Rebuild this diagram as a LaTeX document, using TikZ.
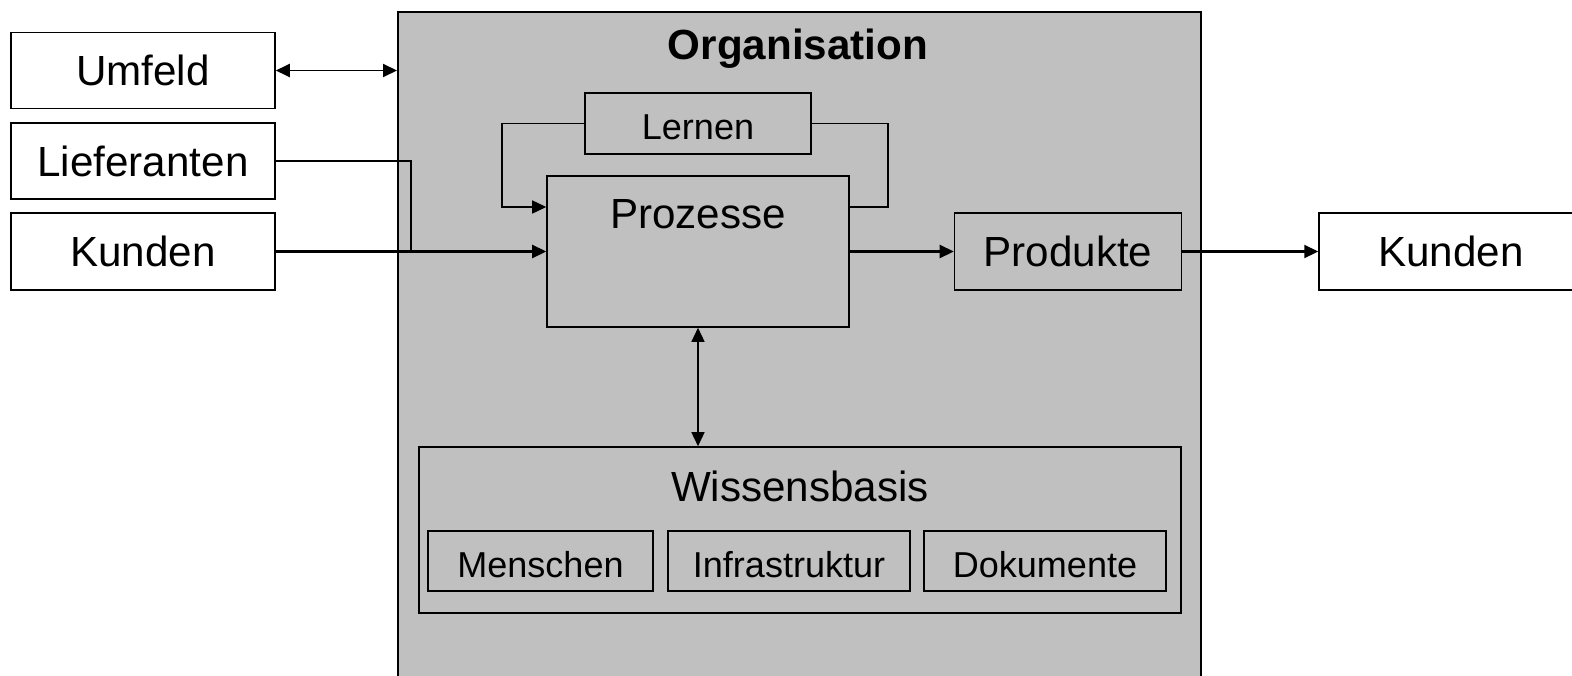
\documentclass[tikz,border=0pt]{standalone}
\usepackage{fontspec}
\setmainfont{Liberation Sans}
\usepackage{tikz}
\usetikzlibrary{arrows.meta, positioning}
\definecolor{orgcolor}{RGB}{192,192,192}

\begin{document}
\begin{tikzpicture}[x=0.02cm, y=-0.02cm,
    bigfont/.style={font=\fontsize{24}{28}\selectfont},
    smallfont/.style={font=\fontsize{20.5}{24}\selectfont},
    box/.style={draw, line width=0.9pt, inner sep=0pt, bigfont},
    smallbox/.style={draw, line width=0.9pt, inner sep=0pt, minimum height=1.2cm, text height=0.66cm, text depth=0pt, smallfont},
    link/.style={line width=1.3pt, -{Triangle[length=2.8mm, width=2.6mm]}},
    thinlink/.style={line width=0.8pt, -{Triangle[length=2.8mm, width=2.6mm]}},
    twoway/.style={line width=1.1pt, {Triangle[length=2.8mm, width=2.6mm]}-{Triangle[length=2.8mm, width=2.6mm]}},
    feed/.style={line width=0.8pt}]
    \useasboundingbox (0,0) rectangle (1572,676);

    % Organisation
    \node[draw, line width=1pt, fill=orgcolor, anchor=north west, minimum width=16.06cm, minimum height=14cm] (org) at (397,11) {};
    \node[font=\fontsize{24}{28}\selectfont\bfseries] (orgtitle) at (798,49) {Organisation};

    % Outside boxes
    \node[box, fill=white, minimum width=5.28cm, minimum height=1.52cm] (umfeld) at (143,70.5) {Umfeld};
    \node[box, fill=white, minimum width=5.28cm, minimum height=1.52cm] (liefer) at (143,161) {Lieferanten};
    \node[box, fill=white, minimum width=5.28cm, minimum height=1.54cm] (kundenL) at (143,251.5) {Kunden};
    \node[box, fill=white, minimum width=5.28cm, minimum height=1.54cm] (kundenR) at (1451,251.5) {Kunden};

    % Inner boxes
    \node[smallbox, minimum width=4.52cm, minimum height=1.22cm] (lernen) at (698,123.5) {Lernen};
    \node[box, minimum width=6.04cm, minimum height=3.02cm] (proz) at (698,251.5) {};
    \node[bigfont] (proztext) at (698,214) {Prozesse};
    \node[box, minimum width=4.54cm, minimum height=1.54cm] (prod) at (1068,251.5) {Produkte};

    % Wissensbasis
    \node[box, minimum width=15.24cm, minimum height=3.32cm] (wissen) at (800,530) {};
    \node[bigfont] (wissentext) at (800,486) {Wissensbasis};
    \node[smallbox, minimum width=4.5cm] (menschen) at (540.5,561) {Menschen};
    \node[smallbox, minimum width=4.84cm] (infra) at (789,561) {Infrastruktur};
    \node[smallbox, minimum width=4.84cm] (doku) at (1045,561) {Dokumente};

    % Connections
    \coordinate (merge) at (411,251.5);
    \coordinate (loopin) at (proz.west |- 0,207);
    \coordinate (loopout) at (proz.east |- 0,207);
    \draw[twoway] (umfeld.east) -- (umfeld.east -| org.west);
    \draw[feed] (liefer.east) -| (merge);
    \draw[link] (kundenL.east) -- (proz.west);
    \draw[thinlink] (lernen.west) -| (502,207) -- (loopin);
    \draw[feed] (loopout) -- (888,207) |- (lernen.east);
    \draw[link] (proz.east) -- (prod.west);
    \draw[link] (prod.east) -- (kundenR.west);
    \draw[twoway, line width=0.8pt] (proz.south) -- (proz.south |- wissen.north);
\end{tikzpicture}
\end{document}
